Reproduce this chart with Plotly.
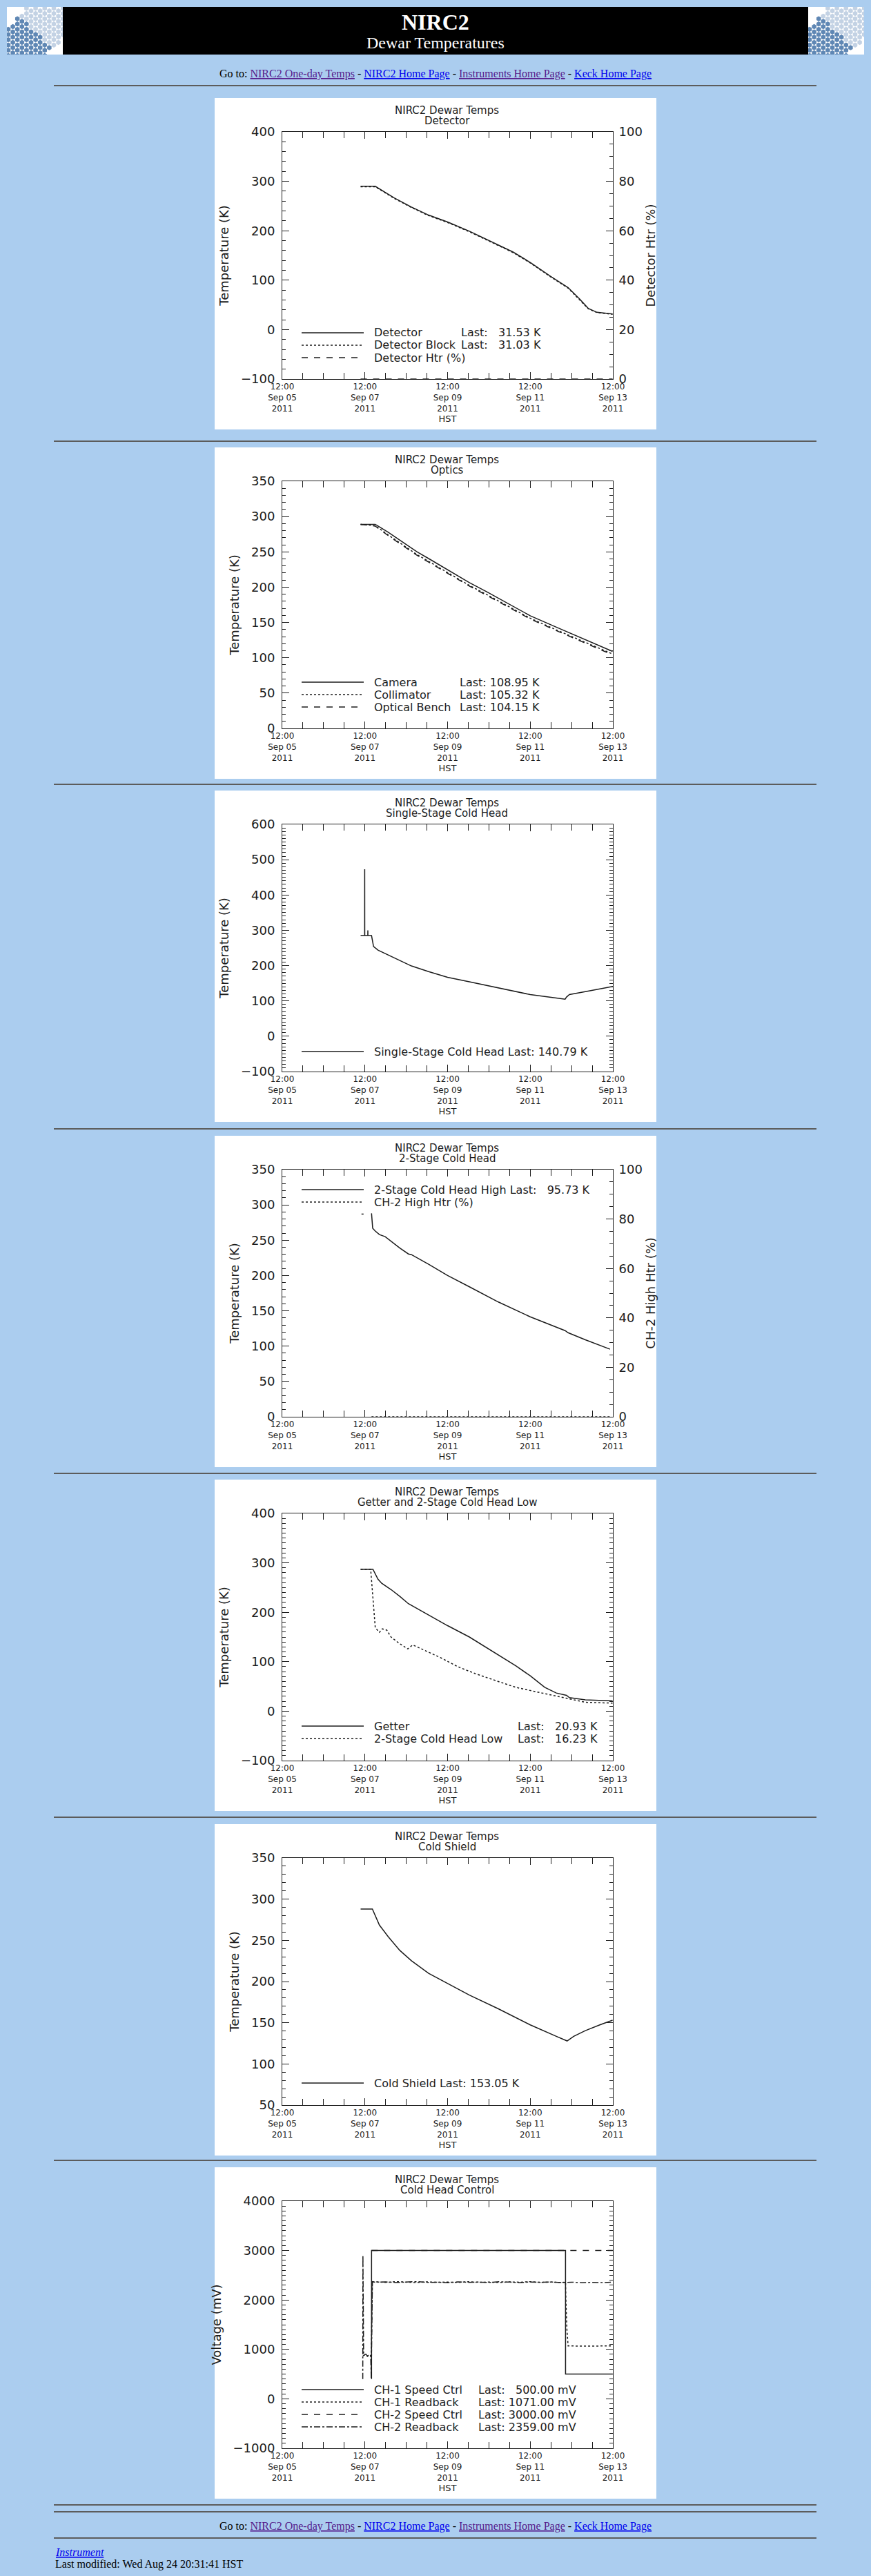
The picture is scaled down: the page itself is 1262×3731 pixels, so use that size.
import plotly.graph_objects as go

W, H = 1262, 3731

# ---- shared HST time axis ----
X_RANGE = ["2011-09-05 12:00", "2011-09-13 12:00"]
X_TICKS = ["2011-09-05 12:00", "2011-09-07 12:00", "2011-09-09 12:00",
           "2011-09-11 12:00", "2011-09-13 12:00"]
X_TICKTEXT = ["12:00<br>Sep 05<br>2011", "12:00<br>Sep 07<br>2011", "12:00<br>Sep 09<br>2011",
              "12:00<br>Sep 11<br>2011", "12:00<br>Sep 13<br>2011"]

# ---- Detector ----
det_time = ["2011-09-07 09:30", "2011-09-07 18:00", "2011-09-08 05:00", "2011-09-08 15:00",
            "2011-09-09 01:00", "2011-09-09 12:00", "2011-09-10 00:40", "2011-09-10 17:30",
            "2011-09-11 02:00", "2011-09-11 12:00", "2011-09-11 23:45", "2011-09-12 10:00",
            "2011-09-12 16:40", "2011-09-12 21:40", "2011-09-13 02:45", "2011-09-13 11:50"]
det_temp = [290, 290, 266.5, 248, 231.6, 217.7, 199, 171, 157, 136, 108, 85, 62, 43, 35, 31.53]
det_block = [289, 289, 265.5, 247, 230.6, 216.7, 198, 170, 156, 135, 107, 84, 61, 42.3, 34.4, 31.03]
det_htr = [0, 0, 0, 0, 0, 0, 0, 0, 0, 0, 0, 0, 0, 0, 0, 0]

# ---- Optics ----
opt_time = ["2011-09-07 09:30", "2011-09-07 18:00", "2011-09-08 01:30", "2011-09-08 11:35",
            "2011-09-08 18:20", "2011-09-09 01:00", "2011-09-09 12:00", "2011-09-10 00:40",
            "2011-09-10 10:45", "2011-09-11 00:15", "2011-09-11 12:00", "2011-09-12 03:10",
            "2011-09-12 20:00", "2011-09-13 11:50"]
camera = [289, 289, 277.7, 261.5, 250, 240.5, 224.3, 206.4, 193.5, 175.7, 159.5, 143.3, 125.4, 108.95]
collimator = [289, 287, 274, 257.5, 246, 236.5, 220.5, 202.5, 189.5, 172, 156, 139.5, 121.8, 105.32]
optical_bench = [289, 286.5, 273, 256.5, 245, 235.5, 219.5, 201.5, 188.5, 171, 155, 138.5, 120.7, 104.15]

# ---- Single-stage cold head ----
ss_time = ["2011-09-07 09:30", "2011-09-07 11:50", "2011-09-07 11:52", "2011-09-07 11:54",
           "2011-09-07 13:40", "2011-09-07 13:42", "2011-09-07 13:44", "2011-09-07 15:50",
           "2011-09-07 17:00", "2011-09-07 19:35", "2011-09-08 04:50", "2011-09-08 15:00",
           "2011-09-09 01:00", "2011-09-09 12:00", "2011-09-10 00:40", "2011-09-10 17:30",
           "2011-09-11 12:00", "2011-09-12 03:10", "2011-09-12 08:15", "2011-09-12 09:05",
           "2011-09-12 10:45", "2011-09-12 20:00", "2011-09-13 12:00"]
single_stage = [285, 285, 473, 285, 285, 300, 285, 285, 254, 244, 222, 199, 183, 167, 154,
                137.5, 118, 108.4, 105, 111, 118, 126.5, 140.79]

# ---- 2-stage cold head (high) ----
ch2_time = ["2011-09-07 15:50", "2011-09-07 16:30", "2011-09-07 18:00", "2011-09-07 20:25",
            "2011-09-07 23:45", "2011-09-08 03:10", "2011-09-08 08:15", "2011-09-08 13:15",
            "2011-09-08 15:00", "2011-09-09 01:00", "2011-09-09 12:00", "2011-09-10 00:40",
            "2011-09-10 17:30", "2011-09-11 12:00", "2011-09-12 08:15", "2011-09-12 10:00",
            "2011-09-12 20:00", "2011-09-13 10:20"]
ch2_high = [288, 267, 263, 258, 255, 248.5, 239, 230.5, 229.6, 216, 200, 184, 162.5, 141.5,
            122, 119, 109, 95.73]
ch2_htr_time = ["2011-09-07 10:00", "2011-09-07 12:00", "2011-09-07 14:00", "2011-09-07 15:50",
                "2011-09-13 10:20"]
ch2_htr = [82, 82, None, 0, 0]

# ---- Getter and 2-stage cold head low ----
get_time = ["2011-09-07 09:30", "2011-09-07 16:40", "2011-09-07 19:35", "2011-09-07 21:45",
            "2011-09-08 03:10", "2011-09-08 08:15", "2011-09-08 13:15", "2011-09-08 18:20",
            "2011-09-09 01:00", "2011-09-09 12:00", "2011-09-10 00:40", "2011-09-10 17:30",
            "2011-09-11 03:35", "2011-09-11 12:00", "2011-09-11 20:25", "2011-09-12 03:10",
            "2011-09-12 09:05", "2011-09-12 10:45", "2011-09-12 20:00", "2011-09-13 11:50"]
getter = [287, 287, 267, 258.7, 246, 232.3, 217.4, 207.2, 194.3, 173, 150, 113, 92, 71.5,
          48.3, 36.7, 32, 27.4, 22.8, 20.93]
low_time = ["2011-09-07 09:30", "2011-09-07 15:20", "2011-09-07 18:00", "2011-09-07 20:25",
            "2011-09-07 22:05", "2011-09-08 00:40", "2011-09-08 03:10", "2011-09-08 08:15",
            "2011-09-08 12:55", "2011-09-08 15:45", "2011-09-08 21:40", "2011-09-09 07:45",
            "2011-09-09 17:55", "2011-09-10 04:00", "2011-09-10 17:30", "2011-09-11 03:35",
            "2011-09-11 18:45", "2011-09-12 10:00", "2011-09-12 20:00", "2011-09-13 11:50"]
ch2_low = [287, 287, 169, 159.5, 166.5, 164, 150, 136.3, 126, 134, 124.7, 108.5, 90, 76, 60,
           48.3, 36.7, 25, 18, 16.23]

# ---- Cold shield ----
cs_time = ["2011-09-07 09:30", "2011-09-07 16:20", "2011-09-07 20:25", "2011-09-08 01:30",
           "2011-09-08 08:15", "2011-09-08 15:00", "2011-09-09 01:00", "2011-09-09 12:00",
           "2011-09-10 00:40", "2011-09-10 17:30", "2011-09-11 12:00", "2011-09-12 03:10",
           "2011-09-12 09:25", "2011-09-12 13:15", "2011-09-12 20:00", "2011-09-13 04:25",
           "2011-09-13 11:50"]
cold_shield = [288, 288, 268.5, 254.5, 237.8, 225.3, 210, 197.5, 183.6, 166.9, 147.4, 133.5,
               127.9, 133.5, 140.4, 147.4, 153.05]

# ---- Cold head control (mV) ----
ch1_speed_time = ["2011-09-07 15:50", "2011-09-07 15:51", "2011-09-12 08:30", "2011-09-12 08:31",
                  "2011-09-13 11:55"]
ch1_speed = [400, 3000, 3000, 500, 500]
ch1_rb_time = ["2011-09-07 10:50", "2011-09-07 12:00", "2011-09-07 13:30", "2011-09-07 15:00",
               "2011-09-07 15:40", "2011-09-07 16:20", "2011-09-07 18:00", "2011-09-08 00:00",
               "2011-09-08 06:00", "2011-09-08 12:00", "2011-09-08 18:00", "2011-09-09 00:00",
               "2011-09-09 06:00", "2011-09-09 12:00", "2011-09-09 18:00", "2011-09-10 00:00",
               "2011-09-10 06:00", "2011-09-10 12:00", "2011-09-10 18:00", "2011-09-11 00:00",
               "2011-09-11 06:00", "2011-09-11 12:00", "2011-09-11 18:00", "2011-09-12 00:00",
               "2011-09-12 06:00", "2011-09-12 08:30", "2011-09-12 08:40", "2011-09-12 09:20",
               "2011-09-12 10:00", "2011-09-12 18:00", "2011-09-13 04:00", "2011-09-13 11:55"]
ch1_rb = [870, 890, 860, 885, 870, 2360, 2368, 2355, 2372, 2361, 2350, 2366, 2358, 2363, 2354,
          2369, 2357, 2362, 2351, 2365, 2359, 2370, 2356, 2362, 2353, 2360, 2050, 1390, 1071,
          1066, 1074, 1071]
ch2_speed_time = ["2011-09-07 15:51", "2011-09-13 11:55"]
ch2_speed = [3000, 3000]
ch2_rb_time = ["2011-09-07 10:45", "2011-09-07 10:50", "2011-09-07 11:15", "2011-09-07 12:30",
               "2011-09-07 13:30", "2011-09-07 14:30", "2011-09-07 15:20", "2011-09-07 15:40",
               "2011-09-07 16:20", "2011-09-07 18:00", "2011-09-08 00:00", "2011-09-08 06:00",
               "2011-09-08 12:00", "2011-09-08 18:00", "2011-09-09 00:00", "2011-09-09 06:00",
               "2011-09-09 12:00", "2011-09-09 18:00", "2011-09-10 00:00", "2011-09-10 06:00",
               "2011-09-10 12:00", "2011-09-10 18:00", "2011-09-11 00:00", "2011-09-11 06:00",
               "2011-09-11 12:00", "2011-09-11 18:00", "2011-09-12 00:00", "2011-09-12 06:00",
               "2011-09-12 12:00", "2011-09-12 18:00", "2011-09-13 00:00", "2011-09-13 06:00",
               "2011-09-13 11:55"]
ch2_rb = [400, 2900, 880, 905, 865, 895, 870, 420, 2370, 2358, 2366, 2352, 2363, 2371, 2355,
          2360, 2349, 2367, 2357, 2362, 2354, 2368, 2361, 2350, 2364, 2357, 2363, 2352, 2360,
          2348, 2356, 2351, 2359]

SUBTITLES = ["Detector", "Optics", "Single-Stage Cold Head", "2-Stage Cold Head",
             "Getter and 2-Stage Cold Head Low", "Cold Shield", "Cold Head Control"]

# ---- page styling ----
FONT = "DejaVu Sans"
SERIF = "Liberation Serif"
INK = "#1c1c1c"
PAGE_BG = "#abcdef"
VISITED = "#551a8b"
LINK = "#0000ee"

PANEL_TOPS = [142, 648, 1145, 1645, 2143, 2642, 3139]
PANEL_X0, PANEL_W, PANEL_H = 311, 640, 480
FRAME_X0, FRAME_X1 = 409, 888
FRAME_TOP, FRAME_BOT = 49, 407
HR_Y = [124, 639, 1136, 1635, 2134, 2632, 3129, 3628, 3638, 3676]


def fx(px):
    return px / W


def fy(py):
    return 1 - py / H


def fig_space(s):
    return s.replace(" ", "\u2007")


def note(text, x, y, size, family=FONT, color=INK, xanchor="center"):
    # page-pixel positioned text
    return dict(text=text, x=fx(x), y=fy(y), xref="paper", yref="paper", xanchor=xanchor,
                yanchor="middle", showarrow=False, font=dict(family=family, size=size, color=color))


panels = [
    dict(ytitle="Temperature (K)", yrange=[-100, 400], dtick=100, minor=20,
         series=[(det_time, det_temp, "solid", False), (det_time, det_block, "dot", False),
                 (det_time, det_htr, "dash", True)],
         legend=[("Detector", "solid", det_temp[-1]), ("Detector Block", "dot", det_block[-1]),
                 ("Detector Htr (%)", "dash", None)],
         rows=[340, 358, 376], last_x=666, unit="K", fmt="6.2f", right="Detector Htr (%)"),
    dict(ytitle="Temperature (K)", yrange=[0, 350], dtick=50, minor=10,
         series=[(opt_time, camera, "solid", False), (opt_time, collimator, "dot", False),
                 (opt_time, optical_bench, "dash", False)],
         legend=[("Camera", "solid", camera[-1]), ("Collimator", "dot", collimator[-1]),
                 ("Optical Bench", "dash", optical_bench[-1])],
         rows=[340, 358, 376], last_x=664, unit="K", fmt="6.2f", right=None),
    dict(ytitle="Temperature (K)", yrange=[-100, 600], dtick=100, minor=10,
         series=[(ss_time, single_stage, "solid", False)],
         legend=[("Single-Stage Cold Head", "solid", single_stage[-1])],
         rows=[378], last_x=None, unit="K", fmt="6.2f", right=None),
    dict(ytitle="Temperature (K)", yrange=[0, 350], dtick=50, minor=10,
         series=[(ch2_time, ch2_high, "solid", False), (ch2_htr_time, ch2_htr, "dot", True)],
         legend=[("2-Stage Cold Head High", "solid", ch2_high[-1]), ("CH-2 High Htr (%)", "dot", None)],
         rows=[78, 96], last_x=None, unit="K", fmt="6.2f", right="CH-2 High Htr (%)"),
    dict(ytitle="Temperature (K)", yrange=[-100, 400], dtick=100, minor=10,
         series=[(get_time, getter, "solid", False), (low_time, ch2_low, "dot", False)],
         legend=[("Getter", "solid", getter[-1]), ("2-Stage Cold Head Low", "dot", ch2_low[-1])],
         rows=[357, 375], last_x=748, unit="K", fmt="6.2f", right=None),
    dict(ytitle="Temperature (K)", yrange=[50, 350], dtick=50, minor=10,
         series=[(cs_time, cold_shield, "solid", False)],
         legend=[("Cold Shield", "solid", cold_shield[-1])],
         rows=[375], last_x=None, unit="K", fmt="6.2f", right=None),
    dict(ytitle="Voltage (mV)", yrange=[-1000, 4000], dtick=1000, minor=100,
         series=[(ch1_speed_time, ch1_speed, "solid", False), (ch1_rb_time, ch1_rb, "dot", False),
                 (ch2_speed_time, ch2_speed, "dash", False), (ch2_rb_time, ch2_rb, "dashdot", False)],
         legend=[("CH-1 Speed Ctrl", "solid", ch1_speed[-1]), ("CH-1 Readback", "dot", ch1_rb[-1]),
                 ("CH-2 Speed Ctrl", "dash", ch2_speed[-1]), ("CH-2 Readback", "dashdot", ch2_rb[-1])],
         rows=[322, 340, 358, 376], last_x=691, unit="mV", fmt="7.2f", right=None),
]

fig = go.Figure()
layout = {}
shapes = []
annotations = []

tick_font = dict(family=FONT, size=18, color=INK)
title_font = dict(family=FONT, size=18, color=INK)

for i, p in enumerate(panels, start=1):
    top = PANEL_TOPS[i - 1]
    xa, ya = ("xaxis", "yaxis") if i == 1 else (f"xaxis{i}", f"yaxis{i}")
    xr, yr = ("x", "y") if i == 1 else (f"x{i}", f"y{i}")

    # white image area of the IDL plot
    shapes.append(dict(type="rect", xref="paper", yref="paper", x0=fx(PANEL_X0), x1=fx(PANEL_X0 + PANEL_W),
                       y0=fy(top + PANEL_H), y1=fy(top), fillcolor="white", line_width=0, layer="below"))

    layout[xa] = dict(
        domain=[fx(FRAME_X0), fx(FRAME_X1)], anchor=yr, type="date", range=X_RANGE,
        tickmode="array", tickvals=X_TICKS, ticktext=X_TICKTEXT,
        ticks="inside", ticklen=10, tickcolor=INK, showline=True, linecolor=INK, linewidth=1,
        mirror="ticks", showgrid=False, zeroline=False,
        minor=dict(tickmode="linear", tick0="2011-09-05 12:00", dtick=12 * 3600 * 1000,
                   ticks="inside", ticklen=9, tickcolor=INK, showgrid=False),
        tickfont=dict(family=FONT, size=12, color=INK),
        title=dict(text="HST", font=dict(family=FONT, size=13, color=INK), standoff=2),
    )
    layout[ya] = dict(
        domain=[fy(top + FRAME_BOT), fy(top + FRAME_TOP)], anchor=xr, range=p["yrange"],
        tick0=p["yrange"][0], dtick=p["dtick"], ticks="inside", ticklen=10, tickcolor=INK,
        showline=True, linecolor=INK, linewidth=1, mirror=False if p["right"] else "ticks",
        showgrid=False, zeroline=False, ticklabelstandoff=6,
        minor=dict(dtick=p["minor"], ticks="inside", ticklen=5, tickcolor=INK, showgrid=False),
        tickfont=tick_font, title=dict(text=p["ytitle"], font=title_font, standoff=12),
    )

    right_ref = None
    if p["right"]:
        n = 10 + i
        right_ref = f"y{n}"
        layout[f"yaxis{n}"] = dict(
            overlaying=yr, side="right", anchor=xr, range=[0, 100], dtick=20,
            ticks="inside", ticklen=10, tickcolor=INK, showline=True, linecolor=INK, linewidth=1,
            showgrid=False, zeroline=False, ticklabelstandoff=4,
            minor=dict(dtick=5, ticks="inside", ticklen=5, tickcolor=INK, showgrid=False),
            tickfont=tick_font, title=dict(text=p["right"], font=title_font, standoff=6),
        )

    for t, v, dash, on_right in p["series"]:
        fig.add_trace(go.Scatter(
            x=t, y=v, mode="lines", showlegend=False, hoverinfo="skip",
            line=dict(color=INK, width=1.5, dash=dash),
            xaxis=xr, yaxis=right_ref if on_right else yr,
        ))

    # two-line plot title
    annotations.append(note("NIRC2 Dewar Temps", 648, top + 18, 15))
    annotations.append(note(SUBTITLES[i - 1], 648, top + 33, 15))

    # IDL-style legend drawn inside the frame
    for (name, dash, last), row in zip(p["legend"], p["rows"]):
        y = fy(top + row)
        shapes.append(dict(type="line", xref="paper", yref="paper", x0=fx(437), x1=fx(527), y0=y, y1=y,
                           line=dict(color=INK, width=1.5, dash=dash)))
        last_txt = None
        if last is not None:
            last_txt = "Last: " + fig_space(format(last, p["fmt"])) + " " + p["unit"]
        if last_txt and p["last_x"] is None:
            label = name + " " + last_txt
        else:
            label = name
        annotations.append(note(label, 540, top + row, 16, xanchor="left"))
        if last_txt and p["last_x"] is not None:
            annotations.append(note(last_txt, p["last_x"], top + row, 16, xanchor="left"))

# ---- page header: black banner with Keck mirror logos ----
shapes.append(dict(type="rect", xref="paper", yref="paper", x0=fx(91), x1=fx(1171), y0=fy(79), y1=fy(10),
                   fillcolor="black", line_width=0, layer="below"))
for n, (x0, x1) in zip([8, 9], [(10, 91), (1171, 1252)]):
    hx, hy, hc = [], [], []
    for c in range(13):
        for r in range(10):
            px = 2 + c * 6.6
            py = 2 + r * 7.6 + (3.8 if c % 2 else 0)
            if abs((px - 40) + (py - 38)) > 48:
                continue
            hx.append(px)
            hy.append(py)
            hc.append("#5f87b4" if px - py < 5 else "#c3d2e4")
    fig.add_trace(go.Scatter(x=hx, y=hy, mode="markers", showlegend=False, hoverinfo="skip",
                             marker=dict(symbol="hexagon", size=7.5, color=hc, line=dict(width=0)),
                             xaxis=f"x{n}", yaxis=f"y{n}"))
    layout[f"xaxis{n}"] = dict(domain=[fx(x0), fx(x1)], range=[0, 81], visible=False, fixedrange=True,
                               anchor=f"y{n}")
    layout[f"yaxis{n}"] = dict(domain=[fy(79), fy(10)], range=[69, 0], visible=False, fixedrange=True,
                               anchor=f"x{n}")

annotations.append(note("<b>NIRC2</b>", 631, 32, 32, family=SERIF, color="white"))
annotations.append(note("Dewar Temperatures", 631, 62, 24, family=SERIF, color="white"))


def link(text, color):
    return f"<span style='color:{color};text-decoration:underline'>{text}</span>"


goto = ("Go to: " + link("NIRC2 One-day Temps", VISITED) + " - " + link("NIRC2 Home Page", LINK) + " - "
        + link("Instruments Home Page", VISITED) + " - " + link("Keck Home Page", LINK))
for gy in [107, 3659]:
    annotations.append(note(goto, 631, gy, 16, family=SERIF, color="black"))

annotations.append(note("<i>" + link("Instrument", LINK) + "</i>", 78, 3696, 16, family=SERIF,
                        color=LINK, xanchor="left"))
annotations.append(note("Last modified: Wed Aug 24 20:31:41 HST", 78, 3714, 16, family=SERIF,
                        color="black", xanchor="left"))

# horizontal rules
for hy in HR_Y:
    shapes.append(dict(type="line", xref="paper", yref="paper", x0=fx(78), x1=fx(1183), y0=fy(hy), y1=fy(hy),
                       line=dict(color="#5c5c5c", width=2)))

fig.update_layout(
    template="none", width=W, height=H, autosize=False,
    margin=dict(l=0, r=0, t=0, b=0, pad=0),
    paper_bgcolor=PAGE_BG, plot_bgcolor="white",
    font=dict(family=FONT, color=INK),
    showlegend=False, hovermode=False,
    shapes=shapes, annotations=annotations,
    **layout,
)

fig.write_html("out.html", config={"displayModeBar": False},
               post_script="document.body.style.margin='0';")
